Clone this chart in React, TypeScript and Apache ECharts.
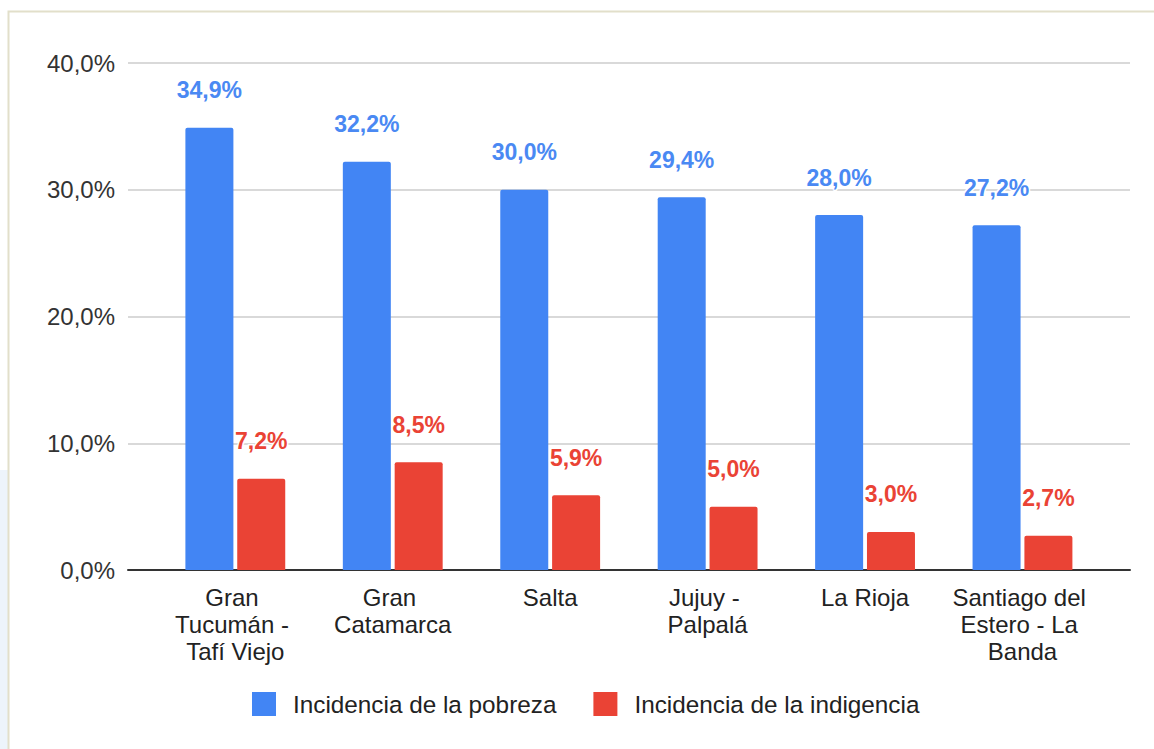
import React, { useEffect, useRef } from "react";
import * as echarts from "echarts";

const categories = [
  "Gran Tucumán - Tafí Viejo",
  "Gran Catamarca",
  "Salta",
  "Jujuy - Palpalá",
  "La Rioja",
  "Santiago del Estero - La Banda",
];
const seriesNames = ["Incidencia de la pobreza", "Incidencia de la indigencia"];
const pobreza = [34.9, 32.2, 30.0, 29.4, 28.0, 27.2];
const indigencia = [7.2, 8.5, 5.9, 5.0, 3.0, 2.7];
const yMin = 0;
const yMax = 40;
const yInterval = 10;

const BLUE = "#4285f4";
const RED = "#ea4335";
const FONT = "'Liberation Sans', Arial, sans-serif";

const fmt = (v: number) => v.toFixed(1).replace(".", ",") + "%";

export default function App() {
  const ref = useRef<HTMLDivElement>(null);
  useEffect(() => {
    document.body.style.margin = "0";
    const chart = echarts.init(ref.current!, null, { renderer: "svg" });
    const labelBase = {
      show: true,
      position: "top" as const,
      distance: 26,
      fontSize: 23,
      fontWeight: "bold" as const,
      fontFamily: FONT,
      textBorderColor: "#fff",
      textBorderWidth: 3,
      formatter: (p: any) => fmt(p.value),
    };
    chart.setOption({
      animation: false,
      backgroundColor: "#ffffff",
      textStyle: { fontFamily: FONT },
      graphic: [
        {
          type: "rect",
          left: 0,
          top: 470,
          shape: { width: 8, height: 279 },
          style: { fill: "#edf4fb" },
          silent: true,
        },
        {
          type: "rect",
          shape: { x: 8.5, y: 11.5, width: 1300, height: 900 },
          style: { fill: "none", stroke: "#e2dfca", lineWidth: 2 },
          silent: true,
          z: 100,
        },
      ],
      legend: {
        data: seriesNames,
        left: 252,
        top: 692,
        padding: 0,
        itemWidth: 24,
        itemHeight: 24,
        itemGap: 37,
        icon: "rect",
        textStyle: {
          fontSize: 24.3,
          color: "#222",
          fontFamily: FONT,
          padding: [0, 0, 0, 12],
        },
      },
      grid: [
        { left: 128, right: 24, top: 63, bottom: 179 },
        { left: 156.6, right: 52.8, top: 63, bottom: 179 },
      ],
      xAxis: [
        {
          type: "category",
          gridIndex: 0,
          data: categories,
          axisLine: { show: true, lineStyle: { color: "#333", width: 2 } },
          axisTick: { show: false },
          axisLabel: { show: false },
          splitLine: { show: false },
        },
        {
          type: "category",
          gridIndex: 1,
          data: categories,
          axisLine: { show: false },
          axisTick: { show: false },
          splitLine: { show: false },
          axisLabel: {
            interval: 0,
            margin: 14,
            fontSize: 24,
            lineHeight: 27,
            color: "#222",
            fontFamily: FONT,
            width: 148,
            overflow: "break",
            align: "center",
          },
        },
      ],
      yAxis: [
        {
          type: "value",
          gridIndex: 0,
          min: yMin,
          max: yMax,
          interval: yInterval,
          axisLine: { show: false },
          axisTick: { show: false },
          splitLine: { show: true, lineStyle: { color: "#cccccc", width: 1.5 } },
          axisLabel: {
            margin: 13,
            fontSize: 24,
            color: "#333",
            fontFamily: FONT,
            formatter: (v: number) => fmt(v),
          },
        },
        {
          type: "value",
          gridIndex: 1,
          min: yMin,
          max: yMax,
          interval: yInterval,
          show: false,
          splitLine: { show: false },
        },
      ],
      series: [
        {
          name: seriesNames[0],
          type: "bar",
          xAxisIndex: 1,
          yAxisIndex: 1,
          data: pobreza,
          barWidth: 48,
          barGap: "8%",
          itemStyle: { color: BLUE, borderRadius: [2, 2, 0, 0] },
          label: { ...labelBase, color: "#4a89f3" },
          z: 3,
        },
        {
          name: seriesNames[1],
          type: "bar",
          xAxisIndex: 1,
          yAxisIndex: 1,
          data: indigencia,
          barWidth: 48,
          barGap: "8%",
          itemStyle: { color: RED, borderRadius: [2, 2, 0, 0] },
          label: { ...labelBase, color: RED },
          z: 3,
        },
      ],
    });
    return () => chart.dispose();
  }, []);
  return (
    <div
      ref={ref}
      style={{ position: "absolute", left: 0, top: 0, width: 1154, height: 749 }}
    />
  );
}
